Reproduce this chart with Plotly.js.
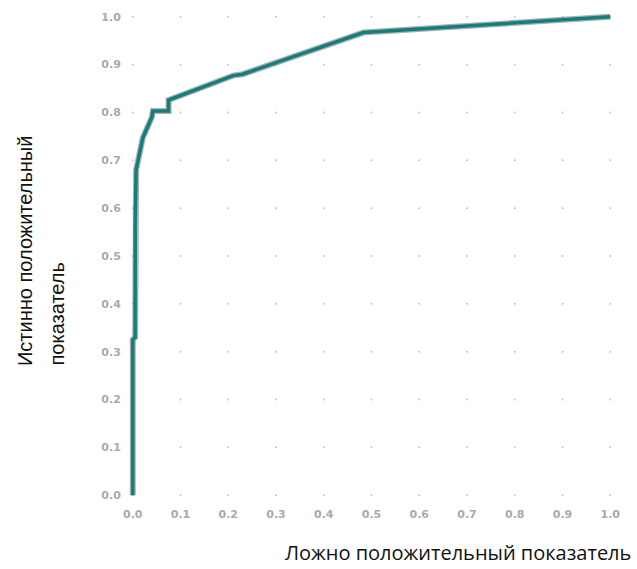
<!DOCTYPE html>
<html><head><meta charset="utf-8">
<script src="https://cdn.plot.ly/plotly-3.0.1.min.js"></script>
<style>html,body{margin:0;padding:0;background:#fff}</style>
</head><body><div id="chart" style="width:637px;height:569px"></div>
<script>
const fpr = [0, 0, 0.005, 0.005, 0.007, 0.021, 0.040, 0.042, 0.075, 0.075, 0.21, 0.23, 0.483, 1.0];
const tpr = [0, 0.325, 0.33, 0.57, 0.68, 0.747, 0.79, 0.803, 0.803, 0.826, 0.877, 0.88, 0.967, 1.0];
const tickVals = [0, 0.1, 0.2, 0.3, 0.4, 0.5, 0.6, 0.7, 0.8, 0.9, 1.0];
const tickText = ['0.0','0.1','0.2','0.3','0.4','0.5','0.6','0.7','0.8','0.9','1.0'];
const xTitle = 'Ложно положительный показатель';
const yTitle1 = 'Истинно положительный';
const yTitle2 = 'показатель';

const gx = [], gy = [];
tickVals.forEach(a => tickVals.forEach(b => { gx.push(a); gy.push(b); }));

const traces = [
  {x: gx, y: gy, mode: 'markers', marker: {size: 2, color: '#c4c4c4'}, hoverinfo: 'skip'},
  {x: fpr, y: tpr, mode: 'lines', line: {color: 'rgba(110,110,110,0.55)', width: 6}, hoverinfo: 'skip'},
  {x: fpr, y: tpr, mode: 'lines', line: {color: '#10807c', width: 3.5}}
];

const axisCommon = {
  tickvals: tickVals, ticktext: tickText,
  showgrid: false, zeroline: false, showline: false,
  ticks: 'outside', ticklen: 4, tickcolor: 'rgba(0,0,0,0)', tickwidth: 1,
  tickfont: {family: 'DejaVu Sans', size: 11, color: '#aaaaaa', weight: 'bold'},
  range: [-0.01, 1.01], fixedrange: true
};

const layout = {
  width: 637, height: 569,
  margin: {l: 128, r: 22, t: 12, b: 69},
  paper_bgcolor: '#fff', plot_bgcolor: '#fff',
  showlegend: false,
  xaxis: Object.assign({}, axisCommon),
  yaxis: Object.assign({}, axisCommon),
  annotations: [
    {text: xTitle, xref: 'paper', yref: 'paper', x: 1, y: 0, xanchor: 'right', yanchor: 'bottom',
     xshift: 18, yshift: -68, showarrow: false, font: {family: 'Open Sans', size: 20, color: '#111'}},
    {text: yTitle1, xref: 'paper', yref: 'paper', x: 0, y: 0, xanchor: 'center', yanchor: 'bottom',
     xshift: -103, yshift: 132, textangle: -90, showarrow: false, font: {family: 'Liberation Sans', size: 20, color: '#111'}},
    {text: yTitle2, xref: 'paper', yref: 'paper', x: 0, y: 0, xanchor: 'center', yanchor: 'bottom',
     xshift: -72, yshift: 132, textangle: -90, showarrow: false, font: {family: 'Liberation Sans', size: 20, color: '#111'}}
  ]
};

Plotly.newPlot('chart', traces, layout, {displayModeBar: false, staticPlot: true});
</script></body></html>
